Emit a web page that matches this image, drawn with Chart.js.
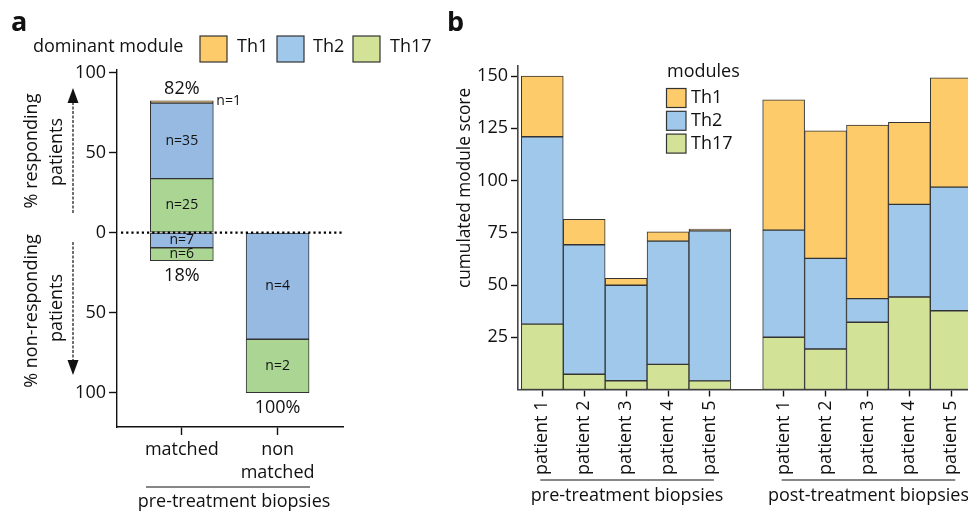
<!DOCTYPE html>
<html>
<head>
<meta charset="utf-8">
<title>Th module scores</title>
<script src="https://cdn.jsdelivr.net/npm/chart.js@4.4.1/dist/chart.umd.min.js"></script>
<style>
  html, body { margin: 0; padding: 0; background: #fff; }
  #wrap { position: relative; width: 968px; height: 512px; overflow: hidden; }
  #chartA { position: absolute; left: 0; top: 0; }
  #chartB { position: absolute; left: 440px; top: 0; }
</style>
</head>
<body>
<div id="wrap">
  <canvas id="chartA" width="460" height="512"></canvas>
  <canvas id="chartB" width="528" height="512"></canvas>
</div>
<script>
// panel a: number of patients per dominant module
const groupsA = ['matched', ['non', 'matched']];
const respTh17 = [25, 0];
const respTh2 = [35, 0];
const respTh1 = [1, 0];
const nonTh2 = [7, 4];
const nonTh17 = [6, 2];
const tickValuesA = [100, 50, 0, -50, -100];

// panel b: cumulated module score per patient
const patients = ['patient 1', 'patient 2', 'patient 3', 'patient 4', 'patient 5',
                  'patient 1', 'patient 2', 'patient 3', 'patient 4', 'patient 5'];
const biopsyGroups = ['pre-treatment biopsies', 'post-treatment biopsies'];
const th17Score = [31.3, 7.3, 4.2, 12.0, 4.1, 25.0, 19.4, 32.2, 44.3, 37.7];
const th2Score = [89.7, 62.0, 45.7, 59.0, 71.8, 51.3, 43.4, 11.3, 44.3, 59.2];
const th1Score = [29.0, 12.2, 3.3, 4.5, 0.9, 62.4, 61.0, 83.1, 39.3, 52.3];
const tickValuesB = [25, 50, 75, 100, 125, 150];

const modules = ['Th1', 'Th2', 'Th17'];
const colTh1 = '#fdcb69';
const colTh2 = '#a0c8ea';
const colTh17 = '#d2e397';
const colTh2a = '#97bae3';
const colTh17a = '#aad592';
const FONT = '"Open Sans", Lato, sans-serif';
const FS = 18;

Chart.defaults.font.family = FONT;
Chart.defaults.color = '#111';

function txt(ctx, s, x, y, size, align, rot, weight) {
    ctx.save();
    ctx.font = (weight || 'normal') + ' ' + size + 'px ' + FONT;
    ctx.fillStyle = '#111';
    ctx.textAlign = align || 'center';
    ctx.textBaseline = 'middle';
    ctx.translate(x, y);
    if (rot) ctx.rotate(rot);
    ctx.fillText(s, 0, 0);
    ctx.restore();
}

function swatch(ctx, x, y, w, h, color) {
    ctx.save();
    ctx.fillStyle = color;
    ctx.fillRect(x, y, w, h);
    ctx.strokeStyle = '#333';
    ctx.lineWidth = 1.2;
    ctx.strokeRect(x, y, w, h);
    ctx.restore();
}

function hline(ctx, x1, x2, y) {
    ctx.save();
    ctx.strokeStyle = '#111';
    ctx.lineWidth = 1.2;
    ctx.beginPath();
    ctx.moveTo(x1, y);
    ctx.lineTo(x2, y);
    ctx.stroke();
    ctx.restore();
}

function dashedArrow(ctx, x, yFrom, yTip) {
    const dir = yTip < yFrom ? -1 : 1;
    const base = yTip - dir * 15;
    ctx.save();
    ctx.strokeStyle = '#111';
    ctx.lineWidth = 1.2;
    ctx.setLineDash([3, 1.5]);
    ctx.beginPath();
    ctx.moveTo(x, yFrom);
    ctx.lineTo(x, base);
    ctx.stroke();
    ctx.fillStyle = '#111';
    ctx.beginPath();
    ctx.moveTo(x, yTip);
    ctx.lineTo(x - 5.5, base);
    ctx.lineTo(x + 5.5, base);
    ctx.closePath();
    ctx.fill();
    ctx.restore();
}

// keep the chart area exactly where the layout padding puts it
function noPad(s) {
    s.paddingLeft = 0;
    s.paddingRight = 0;
    s.paddingTop = 0;
    s.paddingBottom = 0;
}

// ---------- panel a ----------
const totalsA = groupsA.map((g, i) => respTh17[i] + respTh2[i] + respTh1[i] + nonTh2[i] + nonTh17[i]);
const xPosA = groupsA.map((g, i) => i + 1);
const pct = (arr, sign) => arr.map((n, i) => ({x: xPosA[i], y: n > 0 ? sign * n / totalsA[i] * 100 : null}));
const countsA = [respTh17, respTh2, respTh1, nonTh2, nonTh17];

const axisStyle = {
    offset: false,
    grid: {offset: false, drawOnChartArea: false, drawTicks: true, tickLength: 8, tickColor: '#111', tickWidth: 1.4},
    border: {display: true, color: '#111', width: 1.4}
};

const annotA = {
    id: 'annotA',
    afterDatasetsDraw(chart) {
        const ctx = chart.ctx;
        const y0 = chart.scales.y.getPixelForValue(0);
        ctx.save();
        ctx.strokeStyle = '#000';
        ctx.lineWidth = 2.4;
        ctx.setLineDash([2.2, 3]);
        ctx.beginPath();
        ctx.moveTo(chart.chartArea.left + 4, y0);
        ctx.lineTo(chart.chartArea.right, y0);
        ctx.stroke();
        ctx.restore();

        countsA.forEach((counts, d) => {
            const meta = chart.getDatasetMeta(d);
            counts.forEach((n, j) => {
                if (!n) return;
                const bar = meta.data[j];
                if (d === 2) {
                    txt(ctx, 'n=' + n, bar.x + bar.width / 2 + 3, bar.y, 14, 'left');
                } else {
                    txt(ctx, 'n=' + n, bar.x, (bar.y + bar.base) / 2, 14, 'center');
                }
            });
        });

        const ys = chart.scales.y;
        const xs = chart.scales.x;
        groupsA.forEach((g, i) => {
            const up = respTh17[i] + respTh2[i] + respTh1[i];
            const down = nonTh2[i] + nonTh17[i];
            const x = xs.getPixelForValue(xPosA[i]);
            if (up > 0) {
                const p = up / totalsA[i] * 100;
                txt(ctx, Math.round(p) + '%', x, ys.getPixelForValue(p) - 12, FS, 'center');
            }
            if (down > 0) {
                const p = down / totalsA[i] * 100;
                txt(ctx, Math.round(p) + '%', x, ys.getPixelForValue(-p) + 15, FS, 'center');
            }
        });
    },
    afterDraw(chart) {
        const ctx = chart.ctx;
        txt(ctx, 'a', 11, 23, 27, 'left', 0, 'bold');
        txt(ctx, 'dominant module', 33, 47, FS, 'left');
        swatch(ctx, 200, 36, 27, 26, colTh1);
        txt(ctx, modules[0], 237, 47, FS, 'left');
        swatch(ctx, 277, 36, 27, 26, colTh2);
        txt(ctx, modules[1], 313, 47, FS, 'left');
        swatch(ctx, 353, 36, 27, 26, colTh17);
        txt(ctx, modules[2], 390, 47, FS, 'left');

        const r = -Math.PI / 2;
        txt(ctx, '% responding', 32, 151, FS, 'center', r);
        txt(ctx, 'patients', 57, 152, FS, 'center', r);
        txt(ctx, '% non-responding', 32, 311, FS, 'center', r);
        txt(ctx, 'patients', 57, 308, FS, 'center', r);
        dashedArrow(ctx, 73, 213, 88);
        dashedArrow(ctx, 73, 242, 375);

        hline(ctx, 146, 310, 487);
        txt(ctx, biopsyGroups[0], 234, 502, FS, 'center');
    }
};

new Chart(document.getElementById('chartA'), {
    type: 'bar',
    data: {
        datasets: [
            {label: 'Th17', data: pct(respTh17, 1), backgroundColor: colTh17a},
            {label: 'Th2', data: pct(respTh2, 1), backgroundColor: colTh2a},
            {label: 'Th1', data: pct(respTh1, 1), backgroundColor: colTh1},
            {label: 'Th2', data: pct(nonTh2, -1), backgroundColor: colTh2a},
            {label: 'Th17', data: pct(nonTh17, -1), backgroundColor: colTh17a}
        ]
    },
    options: {
        responsive: false,
        animation: false,
        layout: {padding: {top: 69.5, right: 117, left: 0, bottom: 0}},
        datasets: {bar: {barThickness: 63, borderColor: '#333', borderWidth: 1, borderSkipped: false}},
        plugins: {legend: {display: false}, tooltip: {enabled: false}},
        scales: {
            x: {
                type: 'linear', stacked: true, min: 0.323, max: 2.683,
                afterBuildTicks: s => { s.ticks = xPosA.map(v => ({value: v})); },
                afterFit: s => { s.height = 85; noPad(s); },
                ticks: {autoSkip: false, maxRotation: 0, padding: 3,
                        font: {size: FS, lineHeight: 1.3},
                        callback: (v, i) => groupsA[i]},
                ...axisStyle
            },
            y: {
                stacked: true, min: -121.5, max: 102,
                afterBuildTicks: s => { s.ticks = tickValuesA.map(v => ({value: v})); },
                afterFit: s => { s.width = 117; noPad(s); },
                ticks: {padding: 3, font: {size: FS}, callback: v => Math.abs(v)},
                ...axisStyle
            }
        }
    },
    plugins: [annotA]
});

// ---------- panel b ----------
const gapB = 0.76;
const xPosB = patients.map((p, i) => i + 1 + (i >= 5 ? gapB : 0));
const ptsB = arr => arr.map((v, i) => ({x: xPosB[i], y: v}));

const annotB = {
    id: 'annotB',
    afterDraw(chart) {
        const ctx = chart.ctx;
        const xs = chart.scales.x;
        txt(ctx, 'b', 7, 23, 27, 'left', 0, 'bold');

        txt(ctx, 'modules', 227, 72, FS, 'left');
        [colTh1, colTh2, colTh17].forEach((c, i) => {
            swatch(ctx, 226.5, 88.5 + i * 22.8, 19.5, 19, c);
            txt(ctx, modules[i], 251, 98 + i * 22.8, FS, 'left');
        });

        txt(ctx, 'cumulated module score', 25, 188, 17.3, 'center', -Math.PI / 2);

        biopsyGroups.forEach((g, k) => {
            const x1 = xs.getPixelForValue(xPosB[k * 5]) - 2;
            const x2 = xs.getPixelForValue(xPosB[k * 5 + 4]) + 4;
            hline(ctx, x1, x2, 480);
            txt(ctx, g, (x1 + x2) / 2, 496, FS, 'center');
        });
    }
};

new Chart(document.getElementById('chartB'), {
    type: 'bar',
    data: {
        datasets: [
            {label: 'Th17', data: ptsB(th17Score), backgroundColor: colTh17},
            {label: 'Th2', data: ptsB(th2Score), backgroundColor: colTh2},
            {label: 'Th1', data: ptsB(th1Score), backgroundColor: colTh1}
        ]
    },
    options: {
        responsive: false,
        animation: false,
        layout: {padding: {top: 65.7, right: 0, left: 0, bottom: 0}},
        datasets: {bar: {barPercentage: 1, categoryPercentage: 1, borderColor: '#333',
                         borderWidth: 1, borderSkipped: false}},
        plugins: {legend: {display: false}, tooltip: {enabled: false}},
        scales: {
            x: {
                type: 'linear', stacked: true, min: 0.42, max: 11.16,
                afterBuildTicks: s => { s.ticks = xPosB.map(v => ({value: v})); },
                afterFit: s => { s.height = 122.5; noPad(s); },
                ticks: {autoSkip: false, minRotation: 90, maxRotation: 90, padding: 4,
                        font: {size: FS}, callback: (v, i) => patients[i]},
                ...axisStyle,
                grid: {...axisStyle.grid, tickLength: 7},
                border: {display: true, color: '#444', width: 1.6}
            },
            y: {
                stacked: true, min: 0, max: 155,
                afterBuildTicks: s => { s.ticks = tickValuesB.map(v => ({value: v})); },
                afterFit: s => { s.width = 78; noPad(s); },
                ticks: {padding: 3, font: {size: FS}},
                ...axisStyle,
                grid: {...axisStyle.grid, tickLength: 7},
                border: {display: true, color: '#444', width: 1.6}
            }
        }
    },
    plugins: [annotB]
});
</script>
</body>
</html>
